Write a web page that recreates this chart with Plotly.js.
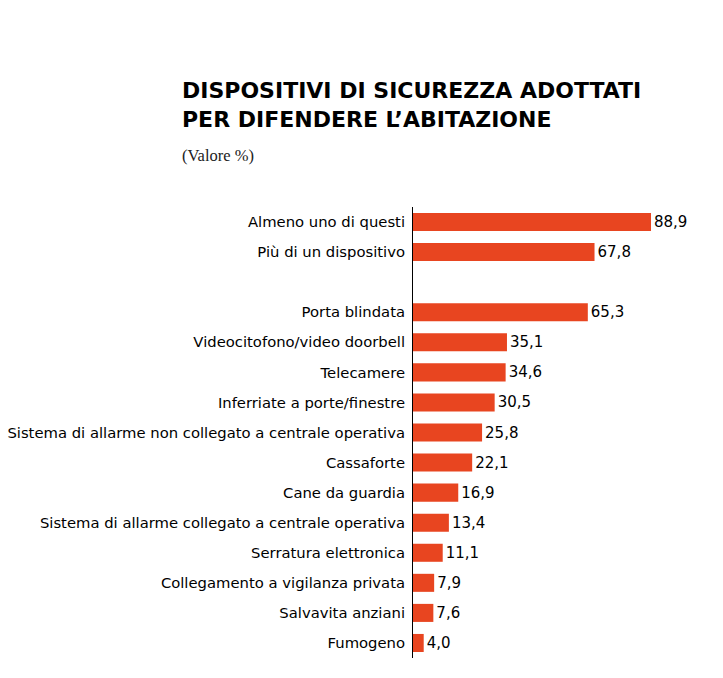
<!DOCTYPE html>
<html><head><meta charset="utf-8">
<script src="https://cdn.plot.ly/plotly-3.0.1.min.js"></script>
<style>body{margin:0;background:#fff}#c{width:723px;height:678px}</style>
</head><body><div id="c"></div>
<script>
const categories = [
  "Almeno uno di questi",
  "Più di un dispositivo",
  " ",
  "Porta blindata",
  "Videocitofono/video doorbell",
  "Telecamere",
  "Inferriate a porte/finestre",
  "Sistema di allarme non collegato a centrale operativa",
  "Cassaforte",
  "Cane da guardia",
  "Sistema di allarme collegato a centrale operativa",
  "Serratura elettronica",
  "Collegamento a vigilanza privata",
  "Salvavita anziani",
  "Fumogeno"
];
const values = [88.9, 67.8, null, 65.3, 35.1, 34.6, 30.5, 25.8, 22.1, 16.9, 13.4, 11.1, 7.9, 7.6, 4.0];
const labels = values.map(v => v === null ? "" : v.toFixed(1).replace(".", ","));
const titleLines = ["DISPOSITIVI DI SICUREZZA ADOTTATI", "PER DIFENDERE L’ABITAZIONE"];

const W = 723, H = 678, L = 413, R = 23, T = 207, B = 20;
const pw = W - L - R, ph = H - T - B;
const px = x => (x - L) / pw;
const py = y => 1 - (y - T) / ph;

const trace = {
  type: "bar", orientation: "h",
  y: categories, x: values, text: labels,
  textposition: "outside", cliponaxis: false,
  textfont: {family: "DejaVu Sans, sans-serif", size: 15, color: "#000"},
  marker: {color: "#e84520"},
  hoverinfo: "skip"
};
const layout = {
  width: W, height: H,
  margin: {l: L, r: R, t: T, b: B},
  paper_bgcolor: "#fff", plot_bgcolor: "#fff",
  showlegend: false, bargap: 0.4,
  xaxis: {range: [0, 107.2], visible: false, fixedrange: true},
  yaxis: {
    autorange: "reversed", type: "category",
    showline: true, linecolor: "#000", linewidth: 1,
    ticks: "", showgrid: false, zeroline: false,
    tickfont: {family: "DejaVu Sans, sans-serif", size: 14.8, color: "#000"},
    ticklabelstandoff: 4
  },
  annotations: [
    {text: "<b>" + titleLines.join("<br>") + "</b>", showarrow: false, xref: "paper", yref: "paper",
     x: px(180), xanchor: "left", align: "left", y: py(105), yanchor: "middle",
     font: {family: "DejaVu Sans, sans-serif", size: 22, color: "#000"}},
    {text: "(Valore %)", showarrow: false, xref: "paper", yref: "paper",
     x: px(180), xanchor: "left", y: py(155), yanchor: "middle",
     font: {family: "Liberation Serif, serif", size: 16.5, color: "#222"}}
  ]
};
Plotly.newPlot("c", [trace], layout, {displayModeBar: false, staticPlot: true});
</script></body></html>
